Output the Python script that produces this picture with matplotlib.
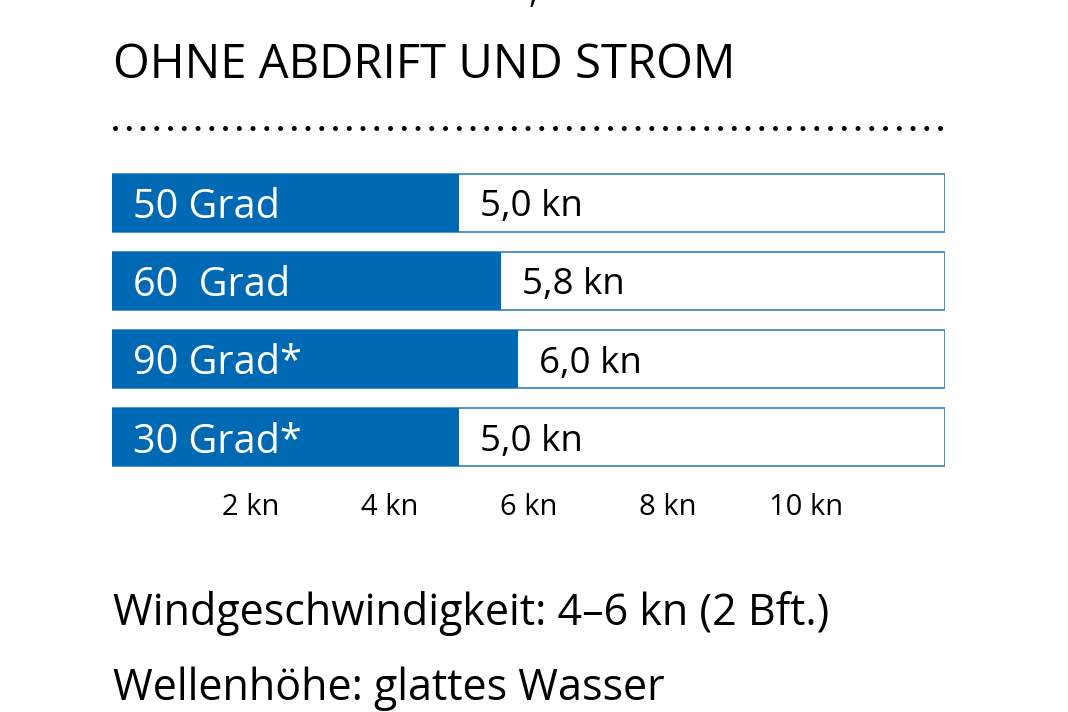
import numpy as np
import matplotlib.pyplot as plt
from matplotlib.lines import Line2D

plt.rcParams['font.family'] = ['Open Sans', 'DejaVu Sans']

# data
categories = ['50 Grad', '60  Grad', '90 Grad*', '30 Grad*']
speeds = [5.0, 5.6, 5.85, 5.0]          # bar lengths as drawn
speed_labels = ['5,0 kn', '5,8 kn', '6,0 kn', '5,0 kn']
ticks = [2, 4, 6, 8, 10]
tick_labels = ['2 kn', '4 kn', '6 kn', '8 kn', '10 kn']
xmax = 12

title = 'OHNE ABDRIFT UND STROM'
footer = ['Windgeschwindigkeit: 4–6 kn (2 Bft.)', 'Wellenhöhe: glattes Wasser']

blue = '#0069B4'
edge = '#3F8BCB'

W, H = 1068, 712
fig = plt.figure(figsize=(W / 100, H / 100), dpi=100)
fig.patch.set_facecolor('white')

def fx(px):
    return px / W

def fy(py):
    return 1 - py / H

# bar axes (pixel box 112..945 x 163.5..476.5)
ax = fig.add_axes([fx(112), fy(476.5), fx(945) - fx(112), (476.5 - 163.5) / H])
y = np.arange(len(categories))
h = 58 / 78
ax.barh(y, [xmax] * len(y), height=h, color='white', edgecolor=edge, linewidth=1.3)
ax.barh(y, speeds, height=h, color=blue, edgecolor='none')
for i in range(len(y)):
    ax.text(0.3, y[i], categories[i], color='white', fontsize=28.5,
            va='center_baseline', ha='left')
    ax.text(speeds[i] + 0.3, y[i], speed_labels[i], color='black', fontsize=26.5,
            va='center_baseline', ha='left')
ax.set_xlim(0, xmax)
ax.set_ylim(len(y) - 0.5, -0.5)
ax.set_xticks(ticks)
ax.set_xticklabels(tick_labels, fontsize=21)
ax.tick_params(axis='x', length=0, pad=12)
ax.set_yticks([])
for s in ax.spines.values():
    s.set_visible(False)

# header
fig.text(fx(533), fy(3), ',', fontsize=24, color='black', ha='center', va='baseline')
fig.text(fx(113), fy(78), title, fontsize=34, color='black', ha='left', va='baseline')
dots = Line2D([fx(115), fx(943)], [fy(128), fy(128)], transform=fig.transFigure,
              color='black', linewidth=3.6, linestyle=(0, (0.01, 2.74)),
              dash_capstyle='round')
fig.add_artist(dots)

# footer
fig.text(fx(113), fy(625), footer[0], fontsize=31, color='black', ha='left', va='baseline')
fig.text(fx(113), fy(700), footer[1], fontsize=31, color='black', ha='left', va='baseline')

fig.savefig('out.png', dpi=100)
